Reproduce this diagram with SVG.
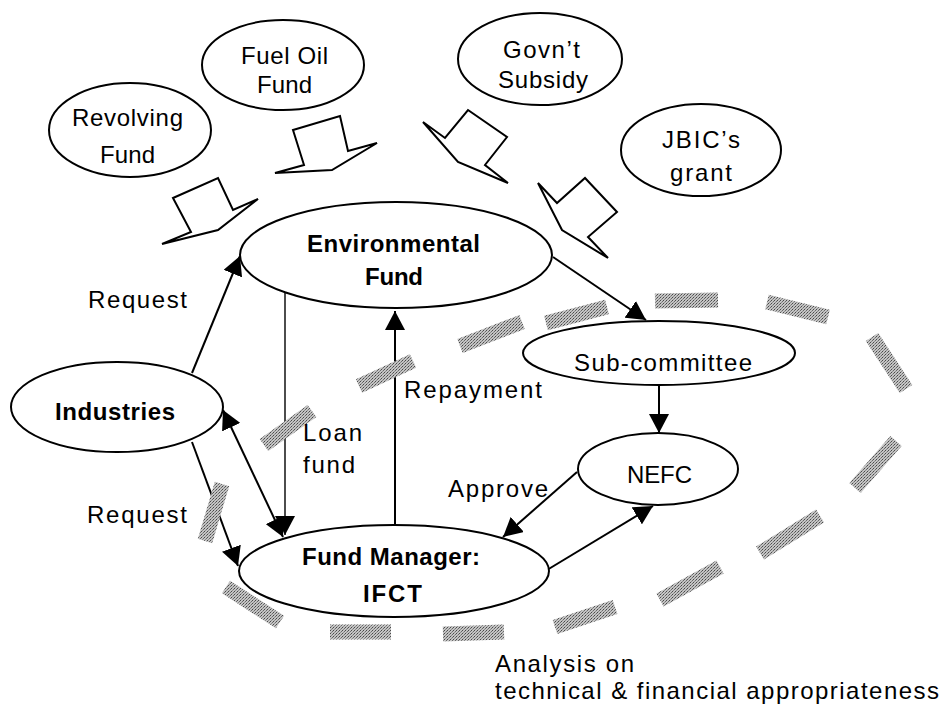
<svg xmlns="http://www.w3.org/2000/svg" width="942" height="708" viewBox="0 0 942 708">
<style>
.node{fill:#fff;stroke:#000;stroke-width:2}
.t{font-family:"Liberation Sans",Arial,sans-serif;font-size:24px;fill:#000}
.b{font-weight:bold}
.m{text-anchor:middle}
.con{stroke:#000;stroke-width:2;fill:none}
.thin{stroke-width:1.4}
.blk{fill:#fff;stroke:#000;stroke-width:2;stroke-linejoin:miter}
.dash{stroke:url(#ht);stroke-width:15;stroke-linecap:butt}
</style>
<defs>
<marker id="ah" markerUnits="userSpaceOnUse" markerWidth="20" markerHeight="20" refX="19" refY="10" orient="auto-start-reverse">
<path d="M0,0 L19,10 L0,20 Z" fill="#000"/>
</marker>
<pattern id="ht" patternUnits="userSpaceOnUse" width="3" height="3">
<rect width="3" height="3" fill="#c4c4c4"/>
<rect width="1" height="1" fill="#4a4a4a"/>
<rect x="2" y="1" width="1" height="1" fill="#6a6a6a"/>
<rect x="1" y="2" width="1" height="1" fill="#8a8a8a"/>
</pattern>
</defs>
<rect width="942" height="708" fill="#fff"/>

<g id="connectors">
<g id="inflows">
<polygon class="blk" points="173,198 218,178 233,210 258,199 218,230 162,244 191,232"/>
<polygon class="blk" points="293,130 340,116 348,151 377,143 332,170 275,173 304,165"/>
<polygon class="blk" points="468,110 507,137 485,165 508,183 458,162 423,122 445,138"/>
<polygon class="blk" points="538,183 557,203 585,178 617,212 588,237 608,258 562,230"/>
</g>
<line class="con" x1="192" y1="373" x2="240" y2="256" marker-end="url(#ah)"/>
<line class="con" x1="223" y1="410" x2="283" y2="537" marker-start="url(#ah)" marker-end="url(#ah)"/>
<line class="con" x1="192" y1="442" x2="238" y2="566" marker-end="url(#ah)"/>
<line class="con thin" x1="285" y1="293" x2="285" y2="535" marker-end="url(#ah)"/>
<line class="con" x1="395" y1="525" x2="395" y2="311" marker-end="url(#ah)"/>
<line class="con" x1="553" y1="257" x2="646" y2="320" marker-end="url(#ah)"/>
<line class="con" x1="659" y1="385" x2="659" y2="433" marker-end="url(#ah)"/>
<line class="con" x1="577" y1="472" x2="503" y2="537" marker-end="url(#ah)"/>
<line class="con" x1="547" y1="570" x2="653" y2="506" marker-end="url(#ah)"/>
</g>

<g id="analysis-boundary">
<line class="dash" x1="222" y1="484" x2="205" y2="541"/>
<line class="dash" x1="226" y1="587" x2="280" y2="622"/>
<line class="dash" x1="330" y1="632" x2="391" y2="632"/>
<line class="dash" x1="443" y1="634" x2="504" y2="632"/>
<line class="dash" x1="555" y1="627" x2="615" y2="607"/>
<line class="dash" x1="660" y1="600" x2="720" y2="567"/>
<line class="dash" x1="760" y1="553" x2="820" y2="516"/>
<line class="dash" x1="855" y1="488" x2="896" y2="441"/>
<line class="dash" x1="872" y1="337" x2="906" y2="389"/>
<line class="dash" x1="767" y1="302" x2="828" y2="317"/>
<line class="dash" x1="655" y1="301" x2="718" y2="300"/>
<line class="dash" x1="546" y1="323" x2="607" y2="307"/>
<line class="dash" x1="460" y1="346" x2="522" y2="322"/>
<line class="dash" x1="359" y1="386" x2="413" y2="361"/>
<line class="dash" x1="264" y1="445" x2="312" y2="411"/>
</g>

<g id="revolving-fund">
<ellipse class="node" cx="130" cy="130" rx="81" ry="47"/>
<text class="t m" x="127.5" y="126" textLength="111">Revolving</text>
<text class="t m" x="127.5" y="163" textLength="55">Fund</text>
</g>
<g id="fuel-oil-fund">
<ellipse class="node" cx="283" cy="65" rx="81" ry="45"/>
<text class="t m" x="284.5" y="64" textLength="87">Fuel Oil</text>
<text class="t m" x="284.5" y="93" textLength="55">Fund</text>
</g>
<g id="govt-subsidy">
<ellipse class="node" cx="540" cy="59" rx="82" ry="46"/>
<text class="t m" x="541.5" y="58" textLength="77">Govn’t</text>
<text class="t m" x="543" y="88" textLength="90">Subsidy</text>
</g>
<g id="jbic-grant">
<ellipse class="node" cx="701" cy="150" rx="80" ry="46"/>
<text class="t m" x="701" y="148" textLength="78">JBIC’s</text>
<text class="t m" x="701" y="181" textLength="62">grant</text>
</g>
<g id="environmental-fund">
<ellipse class="node" cx="396" cy="255" rx="156" ry="53"/>
<text class="t b m" x="393.5" y="252" textLength="173">Environmental</text>
<text class="t b m" x="394" y="285" textLength="58">Fund</text>
</g>
<g id="industries">
<ellipse class="node" cx="117" cy="407" rx="106" ry="45"/>
<text class="t b m" x="115" y="420" textLength="120">Industries</text>
</g>
<g id="sub-committee">
<ellipse class="node" cx="659" cy="353" rx="136" ry="32"/>
<text class="t m" x="663" y="371" textLength="178">Sub-committee</text>
</g>
<g id="nefc">
<ellipse class="node" cx="658" cy="469" rx="80" ry="36"/>
<text class="t m" x="659.5" y="483" textLength="65">NEFC</text>
</g>
<g id="fund-manager">
<ellipse class="node" cx="394" cy="571" rx="155" ry="46"/>
<text class="t b m" x="391" y="565" textLength="178">Fund Manager:</text>
<text class="t b m" x="392.5" y="602" textLength="59">IFCT</text>
</g>

<g id="labels">
<text class="t" x="88" y="308" textLength="99">Request</text>
<text class="t" x="87" y="523" textLength="100">Request</text>
<text class="t" x="303" y="441" textLength="59">Loan</text>
<text class="t" x="303" y="473" textLength="52">fund</text>
<text class="t" x="404" y="398" textLength="138">Repayment</text>
<text class="t" x="448" y="497" textLength="100">Approve</text>
<text class="t" x="495" y="672" textLength="139">Analysis on</text>
<text class="t" x="495" y="699" textLength="444">technical &amp; financial appropriateness</text>
</g>
</svg>
